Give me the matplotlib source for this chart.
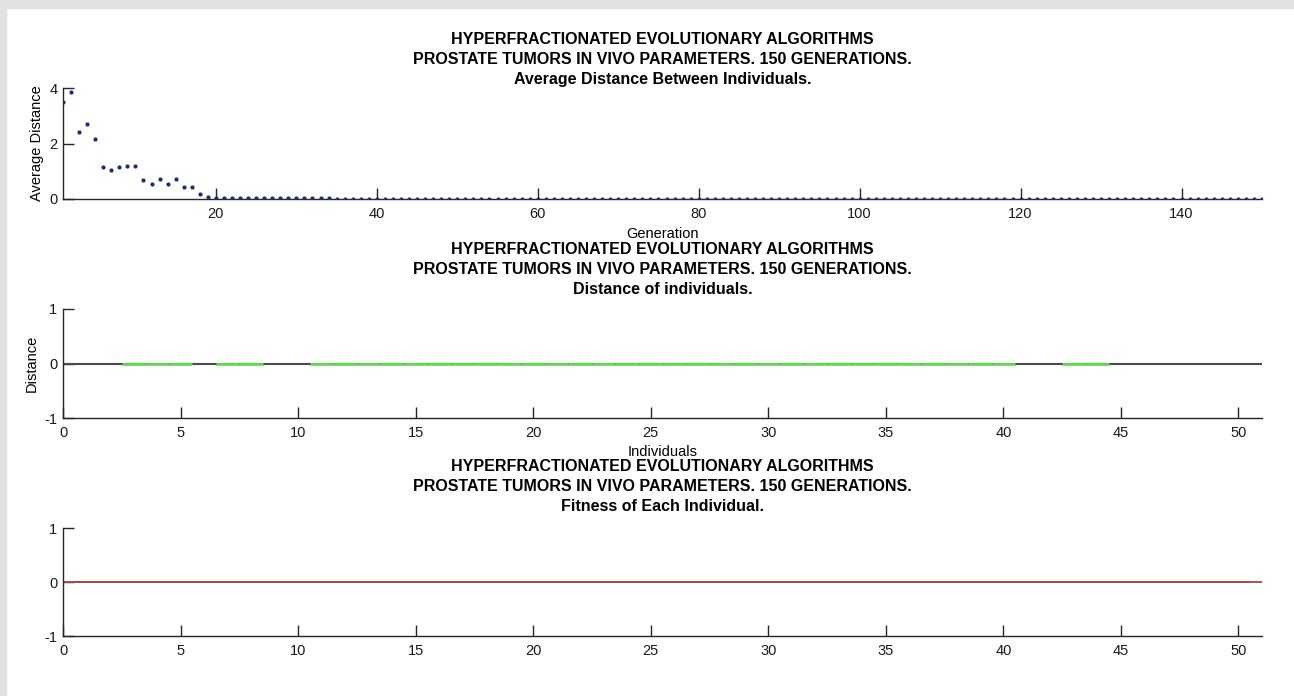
import numpy as np
import matplotlib
matplotlib.use('Agg')
import matplotlib.pyplot as plt

plt.rcParams['font.family'] = ['Liberation Sans', 'DejaVu Sans']
plt.rcParams['axes.unicode_minus'] = False

# average distance between individuals per generation
generations = np.arange(1, 151)
avg_distance = ([3.51, 3.84, 2.42, 2.71, 2.17, 1.14, 1.03, 1.14, 1.18, 1.18,
                 0.69, 0.53, 0.71, 0.53, 0.71, 0.45, 0.45, 0.17, 0.06]
                + [0.05] * 15 + [0.01] * 116)

# distance and fitness of each individual in the last generation
individuals = np.arange(1, 51)
distance = [0.0] * 50
fitness = [0.0] * 50
# individuals whose distance segment shows in green
green_ids = [3, 4, 5, 7, 8] + list(range(11, 41)) + [43, 44]

header = ('HYPERFRACTIONATED EVOLUTIONARY ALGORITHMS\n'
          'PROSTATE TUMORS IN VIVO PARAMETERS. 150 GENERATIONS.\n')

fig = plt.figure(figsize=(12.94, 6.96), dpi=100)
# grey frame strips at top and left
fig.patches.append(plt.Rectangle((0, 1 - 8/696), 1, 8/696, transform=fig.transFigure,
                                 color='#e2e2e2', zorder=0))
fig.patches.append(plt.Rectangle((0, 0), 6/1294, 1, transform=fig.transFigure,
                                 color='#e2e2e2', zorder=0))

ax1 = fig.add_axes([63/1294, 1 - 199/696, 1199/1294, 111/696])
ax2 = fig.add_axes([63/1294, 1 - 418/696, 1199/1294, 109/696])
ax3 = fig.add_axes([63/1294, 1 - 636/696, 1199/1294, 108/696])

title_kw = dict(fontsize=11.5, fontweight='bold', linespacing=1.42)


def style(ax):
    for s in ['top', 'right']:
        ax.spines[s].set_visible(False)
    for s in ['left', 'bottom']:
        ax.spines[s].set_color('#262626')
        ax.spines[s].set_linewidth(1.0)
    ax.tick_params(direction='in', length=8, width=1, color='#262626',
                   labelsize=10.5, labelcolor='#1a1a1a')
    ax.tick_params(axis='x', pad=6)
    ax.tick_params(axis='y', pad=4)


ax1.plot(generations, avg_distance, '.', color='#1b2f6b', markersize=4, zorder=3)
ax1.set_xlim(1, 150)
ax1.set_ylim(0, 4)
ax1.set_xticks(np.arange(20, 141, 20))
ax1.set_yticks([0, 2, 4])
ax1.set_xlabel('Generation', fontsize=10.5)
ax1.xaxis.set_label_coords(0.5, -0.25)
ax1.set_ylabel('Average Distance', fontsize=10.5)
ax1.yaxis.set_label_coords(-0.016, 0.5)
ax1.set_title(header + 'Average Distance Between Individuals.', pad=3, **title_kw)
style(ax1)

ax2.axhline(0, color='#4a4a4a', lw=1.5, zorder=2)
gx = np.array([i for i in individuals if i in green_ids])
gd = [distance[i - 1] for i in gx]
ax2.hlines(gd, gx - 0.5, gx + 0.5, color='#66dd55', lw=2, zorder=3)
ax2.set_xlim(0, 51)
ax2.set_ylim(-1, 1)
ax2.set_xticks(np.arange(0, 51, 5))
ax2.set_yticks([-1, 0, 1])
ax2.set_xlabel('Individuals', fontsize=10.5)
ax2.xaxis.set_label_coords(0.5, -0.245)
ax2.set_ylabel('Distance', fontsize=10.5)
ax2.yaxis.set_label_coords(-0.02, 0.5)
ax2.set_title(header + 'Distance of individuals.', pad=11, **title_kw)
style(ax2)

ax3.axhline(0, color='#a04a4a', lw=1.3, zorder=2)
ax3.hlines(fitness, individuals - 0.5, individuals + 0.5, color='#a04a4a', lw=1.3, zorder=3)
ax3.set_xlim(0, 51)
ax3.set_ylim(-1, 1)
ax3.set_xticks(np.arange(0, 51, 5))
ax3.set_yticks([-1, 0, 1])
ax3.set_title(header + 'Fitness of Each Individual.', pad=12, **title_kw)
style(ax3)

fig.savefig('out.png', dpi=100)
